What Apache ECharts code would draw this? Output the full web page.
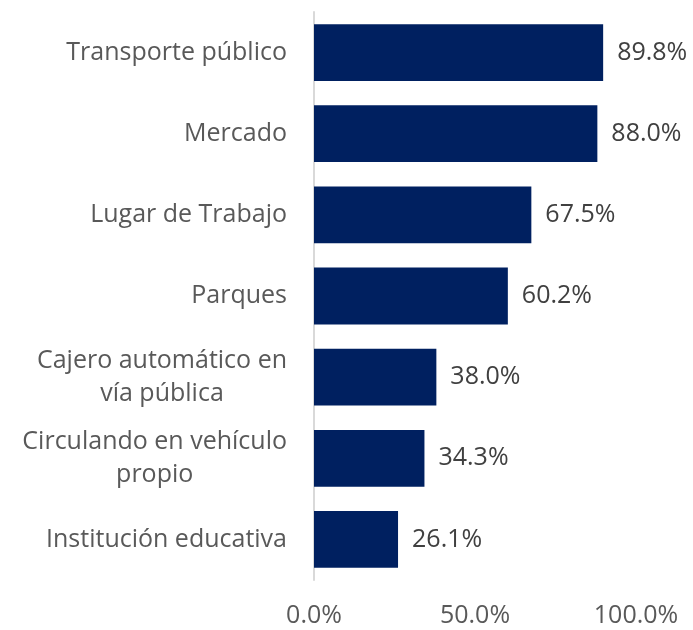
<!DOCTYPE html>
<html>
<head>
<meta charset="utf-8">
<script src="https://cdn.jsdelivr.net/npm/echarts@6/dist/echarts.min.js"></script>
<style>
html, body { margin: 0; padding: 0; background: #fff; }
#chart { width: 693px; height: 630px; }
</style>
</head>
<body>
<div id="chart"></div>
<script>
var categories = [
	'Transporte público',
	'Mercado',
	'Lugar de Trabajo',
	'Parques',
	'Cajero automático en\nvía pública',
	'Circulando en vehículo\npropio',
	'Institución educativa'
];
var values = [89.8, 88.0, 67.5, 60.2, 38.0, 34.3, 26.1];
var xTicks = [0, 50, 100];

var myChart = echarts.init(document.getElementById('chart'));
var fontFam = '"Open Sans", sans-serif';
var fs = 25;
var option = {
	animation: false,
	grid: { left: 314, right: 57, top: 12, bottom: 50 },
	xAxis: {
		type: 'value',
		min: xTicks[0],
		max: xTicks[xTicks.length - 1],
		interval: 50,
		axisLine: { show: false },
		axisTick: { show: false },
		splitLine: { show: false },
		axisLabel: {
			margin: 23,
			color: '#595959',
			fontSize: fs,
			fontFamily: fontFam,
			formatter: function (v) { return v.toFixed(1) + '%'; }
		}
	},
	yAxis: {
		type: 'category',
		data: categories,
		inverse: true,
		axisLine: { show: true, lineStyle: { color: '#d9d9d9', width: 2 } },
		axisTick: { show: false },
		axisLabel: {
			margin: 27,
			align: 'right',
			color: '#595959',
			fontSize: fs,
			fontFamily: fontFam,
			lineHeight: 33,
			// each line centred inside the label block
			formatter: function (v) {
				return v.split('\n').map(function (s) { return '{c|' + s + '}'; }).join('\n');
			},
			rich: {
				c: { align: 'center', color: '#595959', fontSize: fs, fontFamily: fontFam, lineHeight: 33 }
			}
		}
	},
	series: [{
		type: 'bar',
		data: values,
		barCategoryGap: '30%',
		itemStyle: { color: '#002060' },
		label: {
			show: true,
			position: 'right',
			distance: 14,
			color: '#404040',
			fontSize: fs,
			fontFamily: fontFam,
			formatter: function (p) { return p.value.toFixed(1) + '%'; }
		}
	}]
};
myChart.setOption(option);
</script>
</body>
</html>
